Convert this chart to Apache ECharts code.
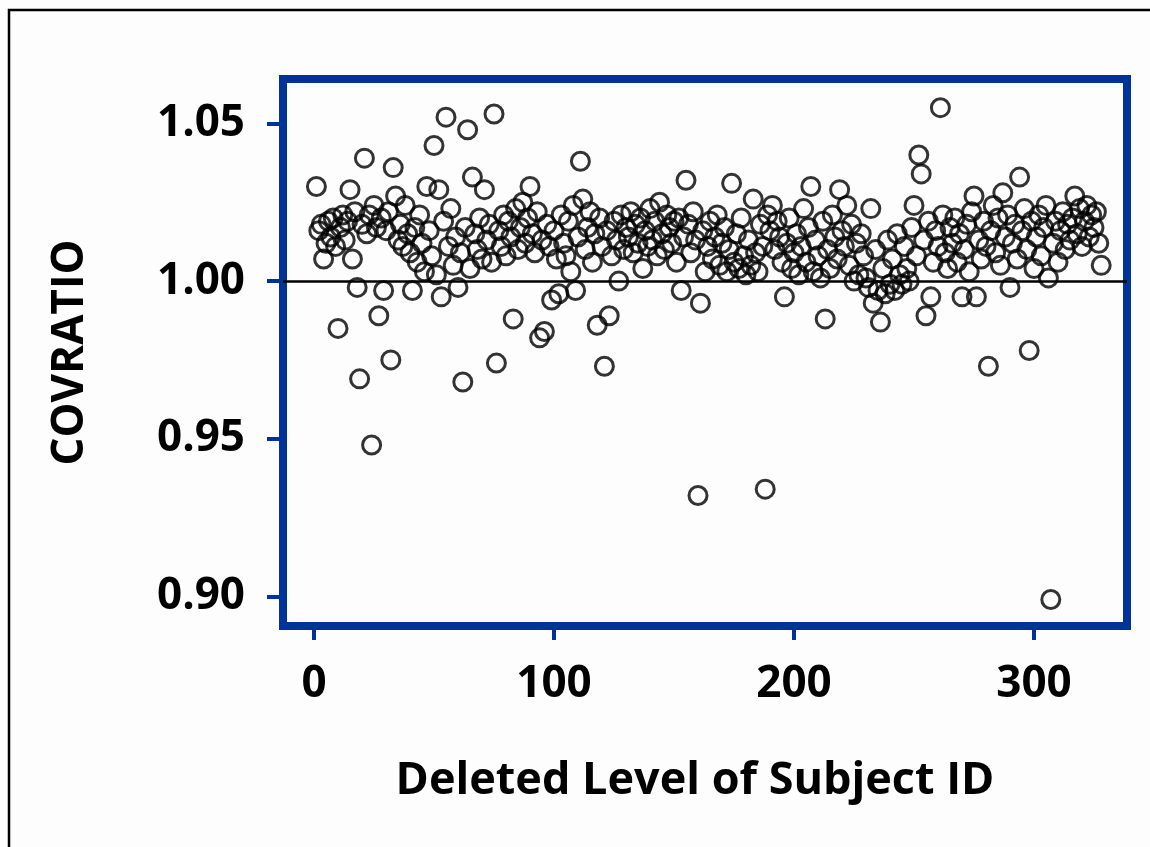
<!DOCTYPE html>
<html>
<head>
<meta charset="utf-8">
<title>COVRATIO by Deleted Level of Subject ID</title>
<script src="https://cdn.jsdelivr.net/npm/echarts@6/dist/echarts.min.js"></script>
<style>
  html, body { margin: 0; padding: 0; background: #fdfdfd; }
  #chart { width: 1150px; height: 847px; }
</style>
</head>
<body>
<div id="chart"></div>
<script>
// COVRATIO for each deleted subject, listed in subject order (ID 1, 2, 3, ...)
const covratio = [
  1.030, 1.016, 1.018, 1.007, 1.012, 1.019, 1.014, 1.020, 1.011, 0.985,
  1.017, 1.021, 1.013, 1.019, 1.029, 1.007, 1.022, 0.998, 0.969, 1.018,
  1.039, 1.015, 1.021, 0.948, 1.024, 1.017, 0.989, 1.020, 0.997, 1.016,
  1.022, 0.975, 1.036, 1.027, 1.013, 1.018, 1.011, 1.024, 1.015, 1.009,
  0.997, 1.017, 1.006, 1.021, 1.012, 1.003, 1.030, 1.016, 1.008, 1.043,
  1.002, 1.029, 0.995, 1.019, 1.052, 1.011, 1.023, 1.005, 1.014, 0.998,
  1.009, 0.968, 1.017, 1.048, 1.004, 1.033, 1.015, 1.010, 1.020, 1.007,
  1.029, 1.013, 1.018, 1.006, 1.053, 0.974, 1.016, 1.011, 1.021, 1.008,
  1.019, 1.014, 0.988, 1.023, 1.010, 1.017, 1.025, 1.012, 1.020, 1.030,
  1.015, 1.009, 1.022, 0.982, 1.013, 0.984, 1.018, 1.011, 0.994, 1.016,
  1.007, 0.996, 1.021, 1.012, 1.008, 1.019, 1.003, 1.024, 0.997, 1.014,
  1.038, 1.026, 1.010, 1.017, 1.022, 1.006, 1.015, 0.986, 1.020, 1.011,
  0.973, 1.016, 0.989, 1.008, 1.019, 1.013, 1.000, 1.021, 1.010, 1.017,
  1.014, 1.022, 1.009, 1.018, 1.012, 1.020, 1.004, 1.016, 1.011, 1.023,
  1.013, 1.019, 1.008, 1.025, 1.015, 1.010, 1.021, 1.017, 1.012, 1.019,
  1.006, 1.020, 0.997, 1.014, 1.032, 1.018, 1.009, 1.022, 1.013, 0.932,
  0.993, 1.016, 1.003, 1.011, 1.019, 1.007, 1.014, 1.021, 1.005, 1.012,
  1.017, 1.003, 1.010, 1.031, 1.006, 1.015, 1.004, 1.020, 1.008, 1.002,
  1.013, 1.005, 1.026, 1.009, 1.003, 1.018, 1.011, 0.934, 1.021, 1.016,
  1.024, 1.010, 1.019, 1.014, 1.006, 0.995, 1.012, 1.020, 1.004, 1.009,
  1.015, 1.002, 1.011, 1.023, 1.006, 1.017, 1.030, 1.003, 1.013, 1.008,
  1.001, 1.019, 0.988, 1.010, 1.004, 1.021, 1.014, 1.007, 1.029, 1.016,
  1.011, 1.024, 1.005, 1.018, 1.000, 1.012, 1.002, 1.015, 1.008, 1.001,
  0.998, 1.023, 0.993, 1.010, 0.997, 0.987, 1.004, 0.996, 1.013, 0.999,
  1.007, 0.997, 1.015, 1.002, 0.999, 1.011, 1.004, 1.000, 1.017, 1.024,
  1.008, 1.040, 1.034, 1.013, 0.989, 1.019, 0.995, 1.006, 1.016, 1.011,
  1.055, 1.021, 1.009, 1.004, 1.017, 1.012, 1.020, 1.006, 1.015, 0.995,
  1.010, 1.018, 1.003, 1.022, 1.027, 0.995, 1.013, 1.007, 1.019, 1.011,
  0.973, 1.016, 1.024, 1.009, 1.020, 1.005, 1.028, 1.014, 1.021, 0.998,
  1.012, 1.018, 1.007, 1.033, 1.016, 1.023, 1.010, 0.978, 1.019, 1.004,
  1.014, 1.021, 1.008, 1.017, 1.024, 1.001, 0.899, 1.012, 1.019, 1.006,
  1.016, 1.022, 1.010, 1.018, 1.013, 1.020, 1.027, 1.015, 1.023, 1.011,
  1.019, 1.024, 1.014, 1.021, 1.017, 1.022, 1.012, 1.005
];

const xTicks = [0, 100, 200, 300];
const yTicks = [0.90, 0.95, 1.00, 1.05];
const referenceLevel = 1.00;

// pair each value with its subject ID (position in the list, starting at 1)
const points = covratio.map((v, i) => [i + 1, v]);

const BLUE = '#003399';
const FONT = '"Open Sans", "Liberation Sans", sans-serif';

const chart = echarts.init(document.getElementById('chart'), null, { renderer: 'canvas' });

chart.setOption({
  backgroundColor: '#fdfdfd',
  animation: false,
  graphic: [{
    type: 'rect',
    shape: { x: 9, y: 10, width: 1170, height: 900 },
    style: { fill: 'none', stroke: '#000', lineWidth: 2.5 },
    silent: true
  }],
  grid: {
    left: 283, top: 79, right: 23, bottom: 221,
    show: true,
    borderColor: BLUE,
    borderWidth: 8,
    backgroundColor: 'transparent'
  },
  xAxis: {
    type: 'value',
    min: -12.92,
    max: 338.75,
    name: 'Deleted Level of Subject ID',
    nameLocation: 'middle',
    nameGap: 133,
    nameTextStyle: { fontFamily: FONT, fontWeight: 'bold', fontSize: 45, color: '#000', padding: [0, 20, 0, 0] },
    axisLine: { show: false, onZero: false },
    axisTick: { show: true, customValues: xTicks, length: 14, lineStyle: { color: BLUE, width: 4 } },
    axisLabel: {
      customValues: xTicks,
      margin: 36,
      fontFamily: FONT, fontWeight: 'bold', fontSize: 44, color: '#000',
      formatter: v => String(Math.round(v))
    },
    splitLine: { show: false }
  },
  yAxis: {
    type: 'value',
    min: 0.8906,
    max: 1.0641,
    name: 'COVRATIO',
    nameLocation: 'middle',
    nameRotate: 90,
    nameGap: 191,
    nameTextStyle: { fontFamily: FONT, fontWeight: 'bold', fontSize: 44, color: '#000' },
    axisLine: { show: false, onZero: false },
    axisTick: { show: true, customValues: yTicks, length: 16, lineStyle: { color: BLUE, width: 4 } },
    axisLabel: {
      customValues: yTicks,
      margin: 38,
      fontFamily: FONT, fontWeight: 'bold', fontSize: 44, color: '#000',
      formatter: v => v.toFixed(2)
    },
    splitLine: { show: false }
  },
  series: [{
    type: 'scatter',
    data: points,
    symbol: 'circle',
    symbolSize: 18,
    itemStyle: { color: 'rgba(0,0,0,0)', borderColor: '#000', borderWidth: 3 },
    emphasis: { disabled: true },
    markLine: {
      silent: true,
      symbol: 'none',
      label: { show: false },
      lineStyle: { color: '#000', width: 2.5, type: 'solid' },
      data: [{ yAxis: referenceLevel }]
    }
  }]
});
</script>
</body>
</html>
